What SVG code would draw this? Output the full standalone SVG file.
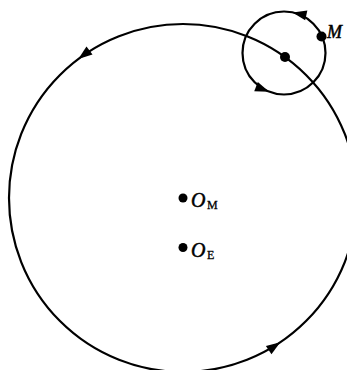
<svg xmlns="http://www.w3.org/2000/svg" width="347" height="370" viewBox="0 0 347 370">
  <style>
    .orbit { fill: none; stroke: #000; stroke-width: 2.2; }
    .dot { fill: #000; }
    .arrow { fill: #000; }
    .lbl { font-family: "Liberation Serif", "Times New Roman", serif; font-style: italic; fill: #000; stroke: #000; stroke-width: 0.5; }
    .sub { font-family: "Liberation Serif", "Times New Roman", serif; font-style: normal; fill: #000; stroke: #000; stroke-width: 0.3; }
  </style>
  <defs>
    <path id="ah" d="M0,0 L-14,-5 L-14,5 Z"/>
  </defs>
  <rect width="347" height="370" fill="#fff"/>
  <g id="connectors">
    <circle id="big-orbit" class="orbit" cx="183" cy="198" r="174"/>
    <circle id="small-orbit" class="orbit" cx="284" cy="53" r="41.5"/>
    <use href="#ah" class="arrow" transform="translate(78.3,59) rotate(143)"/>
    <use href="#ah" class="arrow" transform="translate(280.3,342.3) rotate(-34)"/>
    <use href="#ah" class="arrow" transform="translate(292.6,12.4) rotate(192.5)"/>
    <use href="#ah" class="arrow" transform="translate(269.1,91.7) rotate(21)"/>
  </g>
  <g id="moon-center">
    <circle class="dot" cx="285" cy="57" r="5"/>
  </g>
  <g id="M">
    <circle class="dot" cx="321.5" cy="36.5" r="5"/>
    <text class="lbl" x="327" y="38" font-size="18">M</text>
  </g>
  <g id="OM">
    <circle class="dot" cx="183" cy="198" r="4.5"/>
    <text class="lbl" x="191" y="206.5" font-size="20">O</text>
    <text class="sub" x="207" y="209" font-size="12">M</text>
  </g>
  <g id="OE">
    <circle class="dot" cx="183" cy="247.5" r="4.5"/>
    <text class="lbl" x="191" y="256.5" font-size="20">O</text>
    <text class="sub" x="207" y="259" font-size="12">E</text>
  </g>
</svg>
